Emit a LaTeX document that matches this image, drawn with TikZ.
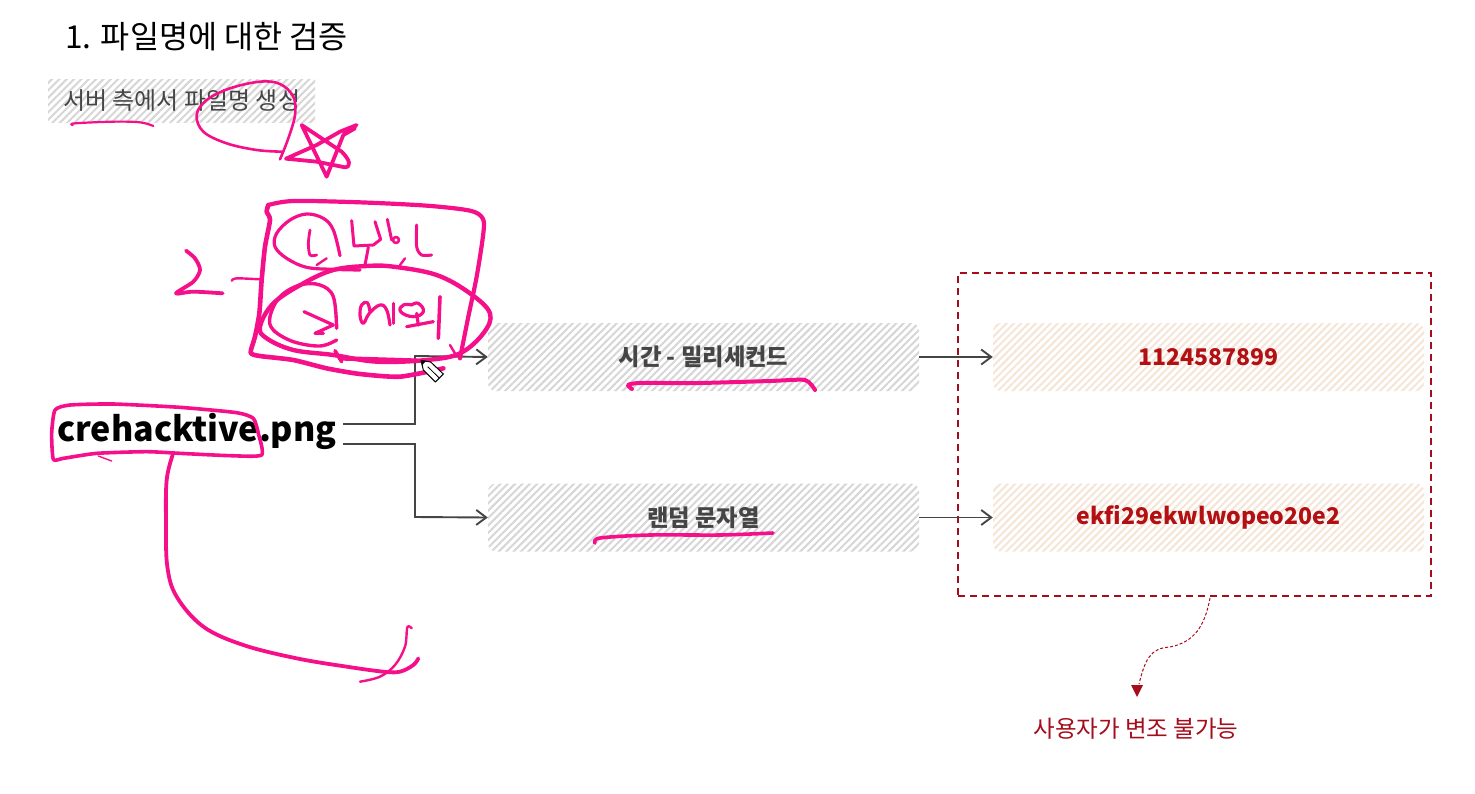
\documentclass[tikz,border=0pt]{standalone}
\usepackage{fontspec}
\setmainfont{Noto Sans CJK KR}
\usetikzlibrary{patterns.meta,arrows.meta}
\definecolor{inkpink}{HTML}{F5108A}
\definecolor{darkred}{HTML}{A60D1C}
\definecolor{labelred}{HTML}{B31014}
\definecolor{wiregray}{HTML}{454545}
\definecolor{hatchgray}{HTML}{D6D6D6}
\definecolor{hatchtan}{HTML}{F5E5D6}
\tikzset{
  fs/.style={font=\fontsize{#1}{#1}\selectfont},
  hatchbox/.style={draw=none,minimum width=431pt,minimum height=68pt,rounded corners=8pt,inner sep=0pt,
    pattern={Lines[angle=45,distance=5.2pt,line width=2pt]},pattern color=hatchgray},
  tanbox/.style={hatchbox,pattern color=hatchtan},
  graylabel/.style={text=wiregray,inner sep=0pt,font=\fontsize{23.3}{23.3}\selectfont\bfseries},
  redlabel/.style={text=labelred,inner sep=0pt,font=\fontsize{23}{23}\selectfont\bfseries},
  wire/.style={draw=wiregray,line width=1.9pt},
  wirearrow/.style={wire,-{Straight Barb[length=10pt,width=15pt,line width=1.9pt]}},
  ink/.style={draw=inkpink,line width=#1,line cap=round,line join=round},
  ink/.default=3pt,
  zoomed/.style={x=0.33333pt,y=-0.33333pt}
}
\begin{document}
\begin{tikzpicture}[x=1pt,y=-1pt]
\useasboundingbox (0,0) rectangle (1475,793);
\fill[white] (0,0) rectangle (1475,793);

\node[anchor=west,inner sep=0pt,fs=31.6,text=black] (title) at (65,37) {1. 파일명에 대한 검증};
\node[minimum width=267pt,minimum height=43pt,inner sep=0pt,pattern={Lines[angle=45,distance=5.2pt,line width=2pt]},pattern color=hatchgray] (sub) at (181.5,100.5) {};
\node[anchor=west,inner sep=0pt,text=wiregray,fs=24] (subt) at (63,100) {서버 측에서 파일명 생성};

\node[hatchbox] (b1) at (703.5,357) {};
\node[graylabel] at (b1) {시간 - 밀리세컨드};
\node[hatchbox] (b2) at (703.5,517.5) {};
\node[graylabel] at (b2) {랜덤 문자열};
\node[tanbox] (c1) at (1208.5,357) {};
\node[redlabel] at (c1) {1124587899};
\node[tanbox] (c2) at (1208.5,517.5) {};
\node[redlabel] at (c2) {ekfi29ekwlwopeo20e2};

\node[draw=darkred,line width=2.2pt,dash pattern=on 7pt off 5pt,minimum width=473pt,minimum height=323pt,inner sep=0pt] (group) at (1194.5,434.5) {};

\node[anchor=west,inner sep=0pt,font=\fontsize{34}{34}\selectfont\bfseries,text=black] (file) at (57,431) {crehacktive.png};

\coordinate (fa) at (343,424);
\coordinate (fb) at (343,444);
\draw[wirearrow] (fa) -| (415,356) -- (b1.west);
\draw[wirearrow] (fb) -| (415,517) -- (b2.west);
\draw[wirearrow] (b1.east) -- (c1.west);
\draw[wirearrow] (b2.east) -- (c2.west);

\node[text=darkred,inner sep=0pt,fs=23.5] (note) at (1136,729) {사용자가 변조 불가능};
\coordinate (curvestart) at (1210,598);
\coordinate (curveend) at (1137,697);
\draw[darkred,line width=1pt,dash pattern=on 3pt off 2pt] (curvestart) .. controls (1205,625) and (1195,642) .. (1170,647) .. controls (1150,648) and (1145,660) .. (1139,684);
\fill[darkred] (1131,685) -- (1143,685) -- (1137,697) -- cycle;

% ---- handwriting, top left
\begin{scope}[shift={(30,60)},zoomed]
\draw[ink=2.2pt] plot[smooth,tension=.6] coordinates {(128,195) (135,190) (250,185) (330,187) (370,198)};
\draw[ink=2.6pt] plot[smooth,tension=.6] coordinates {(750,298) (775,235) (795,165) (790,110) (750,72) (690,65) (600,85) (530,120) (500,165) (520,215) (590,250) (680,270) (755,275)};
\draw[ink=3.8pt] (980,195) -- (930,215) -- (860,255) -- (768,296) -- (860,305) -- (945,322) .. controls (965,320) and (960,300) .. (935,275) -- (815,195) -- (890,350) -- (940,225) -- (975,205);
\end{scope}

% ---- handwriting, note box
\begin{scope}[shift={(160,190)},zoomed]
\draw[ink=4.2pt] plot[smooth,tension=.5] coordinates {(325,45) (400,33) (600,37) (800,47) (930,62) (968,85) (970,130) (950,260) (925,380) (900,505)};
\draw[ink=4.6pt] plot[smooth,tension=.4] coordinates {(325,45) (320,65) (330,90) (315,170) (305,270) (298,370) (285,440) (272,488) (300,498) (400,510) (500,535) (600,552) (720,560) (850,535)};
\draw[ink=4.4pt] plot[smooth cycle,tension=.6] coordinates {(300,410) (340,340) (430,280) (520,240) (620,228) (700,230) (830,255) (930,310) (990,370) (970,430) (900,490) (800,510) (650,515) (520,495) (400,480) (320,445)};
\draw[ink=2.4pt] plot[smooth,tension=.5] coordinates {(215,272) (230,265) (300,268)};
\draw[ink=3.8pt] plot[smooth,tension=.5] coordinates {(78,182) (105,205) (120,240) (100,275) (48,310) (100,305) (188,310)};
\draw[ink=3.2pt] plot[smooth,tension=.6] coordinates {(540,197) (520,120) (490,85) (440,72) (390,90) (350,130) (345,170) (380,205) (440,232) (520,238) (600,240)};
\draw[ink=2.8pt] plot[smooth,tension=.5] coordinates {(450,120) (445,160) (450,195) (470,195)};
\draw[ink=2.4pt] (470,225) -- (500,205);
\draw[ink=3pt] (575,92) -- (582,168) -- (640,165) -- (662,148) -- (645,95);
\draw[ink=3pt] (625,172) -- (615,225);
\draw[ink=3pt] (682,88) -- (695,150);
\draw[ink=2.6pt] (708,150) circle[radius=9];
\draw[ink=3pt] plot[smooth,tension=.5] coordinates {(770,105) (770,170) (785,195) (815,195)};
\draw[ink=2.4pt] (720,225) -- (735,205);
\draw[ink=3.4pt] plot[smooth,tension=.6] coordinates {(530,450) (480,468) (400,455) (340,420) (330,380) (360,320) (420,285) (480,285) (520,320) (530,415)};
\draw[ink=3.2pt] (432,365) -- (520,405) -- (465,430) -- (490,430);
\draw[ink=3.2pt] plot[smooth,tension=.7] coordinates {(630,365) (622,338) (605,345) (600,375) (610,400) (628,370) (660,345) (680,360) (690,405)};
\draw[ink=3.2pt] (700,340) -- (700,400);
\draw[ink=3.2pt] plot[smooth,tension=.8] coordinates {(755,345) (730,345) (722,365) (760,380) (790,365) (775,340) (755,345)};
\draw[ink=3.2pt] (740,410) -- (820,395);
\draw[ink=3.2pt] (770,370) -- (775,405);
\draw[ink=3.6pt] (840,320) -- (835,445);
\draw[ink=3.6pt] (525,482) -- (545,515);
\draw[ink=2.4pt] (870,465) -- (885,490);
\draw[ink=4.5pt] (540,505) -- (770,512);
% pencil cursor
\draw[fill=white,draw=black,line width=1pt,line join=round] (783,511) -- (812,516) -- (850,552) -- (826,576) -- (790,540) -- cycle;
\fill[black] (783,511) -- (798,513) -- (786,526) -- cycle;
\draw[black,line width=.8pt] (803,530) -- (838,564);
\end{scope}

% ---- handwriting, file name
\begin{scope}[shift={(30,390)},zoomed]
\draw[ink=3.6pt] plot[smooth cycle,tension=.35] coordinates {(75,60) (120,45) (250,42) (450,52) (620,68) (670,85) (685,130) (695,195) (600,197) (450,190) (350,185) (200,190) (100,205) (70,208) (65,130)};
\draw[ink=1.4pt] (205,198) -- (245,213);
\draw[ink=3.8pt] plot[smooth,tension=.6] coordinates {(428,195) (410,270) (408,400) (412,530) (440,620) (520,710) (640,765) (800,805) (950,830) (1060,845) (1110,845) (1150,825) (1165,805)};
\draw[ink=2.4pt] plot[smooth,tension=.6] coordinates {(1145,715) (1132,712) (1125,770) (1095,825) (1050,860) (990,875)};
\end{scope}

% ---- underlines
\draw[ink=4pt] plot[smooth,tension=.4] coordinates {(632,389) (628,385) (640,383) (700,383) (770,381) (805,380) (815,390)};
\draw[ink=3.6pt] plot[smooth,tension=.5] coordinates {(595,543) (600,538) (650,535) (720,535) (773,533)};
\end{tikzpicture}
\end{document}
